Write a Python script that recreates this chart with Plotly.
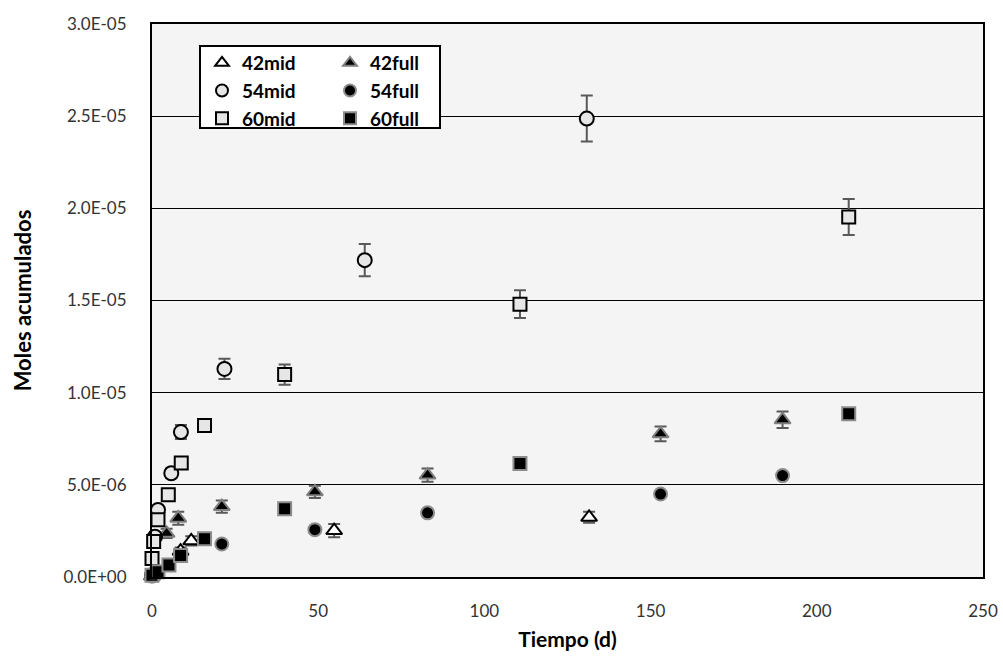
import plotly.graph_objects as go

# ---- data (days, moles x 1e-6, error x 1e-6) ----
d42mid = [0, 8.6, 11.8, 54.8, 131.5]
v42mid = [0.05, 1.4, 1.96, 2.52, 3.24]
e42mid = [0.05, 0.2, 0.25, 0.36, 0.3]

d42full = [0, 4.4, 7.9, 21.0, 49.0, 82.9, 153.0, 189.7]
v42full = [0.05, 2.37, 3.19, 3.82, 4.62, 5.53, 7.77, 8.53]
e42full = [0.05, 0.25, 0.35, 0.33, 0.33, 0.36, 0.4, 0.45]

d54mid = [0, 0.9, 1.8, 5.8, 8.7, 21.8, 64.0, 130.8]
v54mid = [0.1, 2.19, 3.64, 5.63, 7.86, 11.29, 17.19, 24.87]
e54mid = [0.05, 0.15, 0.2, 0.25, 0.38, 0.55, 0.87, 1.25]

d54full = [0, 21.0, 49.0, 82.9, 153.0, 189.7]
v54full = [0.05, 1.79, 2.57, 3.48, 4.5, 5.5]
e54full = [0.02, 0.1, 0.1, 0.1, 0.1, 0.1]

d60mid = [0, 0.5, 1.8, 4.9, 8.8, 15.8, 39.9, 110.7, 209.6]
v60mid = [1.0, 1.92, 3.1, 4.46, 6.18, 8.22, 10.98, 14.8, 19.53]
e60mid = [0.1, 0.1, 0.15, 0.2, 0.25, 0.3, 0.55, 0.75, 0.97]

d60full = [0, 1.8, 5.1, 8.6, 15.8, 39.9, 110.7, 209.6]
v60full = [0.1, 0.29, 0.65, 1.16, 2.07, 3.7, 6.16, 8.86]
e60full = [0.02, 0.05, 0.05, 0.1, 0.1, 0.1, 0.1, 0.1]

ytickvals = [0, 5e-6, 1e-5, 1.5e-5, 2e-5, 2.5e-5, 3e-5]
yticktext = ["0.0E+00", "5.0E-06", "1.0E-05", "1.5E-05", "2.0E-05", "2.5E-05", "3.0E-05"]
xtickvals = [0, 50, 100, 150, 200, 250]

SC = 1e-6
ERR_COLOR = "#595959"

series = [
    ("42mid", d42mid, v42mid, e42mid, "triangle-up", "#ffffff", "#000000", 14, "legend"),
    ("42full", d42full, v42full, e42full, "triangle-up", "#000000", "#7f7f7f", 14, "legend2"),
    ("54mid", d54mid, v54mid, e54mid, "circle", "#e6e6e6", "#000000", 14, "legend"),
    ("54full", d54full, v54full, e54full, "circle", "#000000", "#8c8c8c", 13, "legend2"),
    ("60mid", d60mid, v60mid, e60mid, "square", "#e6e6e6", "#000000", 13, "legend"),
    ("60full", d60full, v60full, e60full, "square", "#000000", "#8c8c8c", 13, "legend2"),
]

fig = go.Figure()
for name, d, v, e, sym, fill, edge, size, leg in series:
    fig.add_trace(go.Scatter(
        x=d, y=[val * SC for val in v], mode="markers", name=name,
        marker=dict(symbol=sym, size=size, color=fill, line=dict(color=edge, width=2)),
        error_y=dict(type="data", array=[er * SC for er in e], visible=True,
                     color=ERR_COLOR, thickness=2, width=6),
        cliponaxis=False, legend=leg,
    ))

FONT = "Lato"
L, R, T, B = 152, 20, 24, 82
W, H = 1003, 659
pw = W - L - R
ph = H - T - B

def px_x(p):
    return (p - L) / pw

def px_y(p):
    return 1 - (p - T) / ph

legend_common = dict(
    bgcolor="rgba(0,0,0,0)", borderwidth=0,
    font=dict(family=FONT, size=19, color="#000000", weight="bold"),
    xanchor="left", yanchor="top", tracegroupgap=0, itemsizing="constant", itemwidth=30,
)

fig.update_layout(
    width=W, height=H,
    margin=dict(l=L, r=R, t=T, b=B, autoexpand=False),
    paper_bgcolor="#ffffff", plot_bgcolor="#f4f4f4",
    font=dict(family=FONT, size=16, color="#333333"),
    showlegend=True,
    legend=dict(x=px_x(202), y=px_y(44), **legend_common),
    legend2=dict(x=px_x(330), y=px_y(44), **legend_common),
    xaxis=dict(
        range=[0, 250], tickvals=xtickvals, showgrid=False, zeroline=False,
        showline=True, linecolor="#000000", linewidth=2, mirror=True,
        ticks="", ticklabelstandoff=18, automargin=False,
        tickfont=dict(family=FONT, size=17, color="#333333"),
        title=dict(text="<b>Tiempo (d)</b>", font=dict(family=FONT, size=21, color="#000000"), standoff=12),
    ),
    yaxis=dict(
        range=[0, 3e-5], tickvals=ytickvals, ticktext=yticktext,
        showgrid=True, gridcolor="#000000", gridwidth=1.3, zeroline=False,
        showline=True, linecolor="#000000", linewidth=2, mirror=True,
        ticks="", ticklabelstandoff=20, automargin=False,
        tickfont=dict(family=FONT, size=17, color="#333333"),
        title=dict(text="<b>Moles acumulados</b>", font=dict(family=FONT, size=22, color="#000000"), standoff=26),
    ),
    shapes=[dict(
        type="rect", xref="paper", yref="paper",
        x0=px_x(200), x1=px_x(440), y0=px_y(128), y1=px_y(46),
        line=dict(color="#000000", width=2), fillcolor="#ffffff", layer="above",
    )],
)

fig.write_html("out.html")
